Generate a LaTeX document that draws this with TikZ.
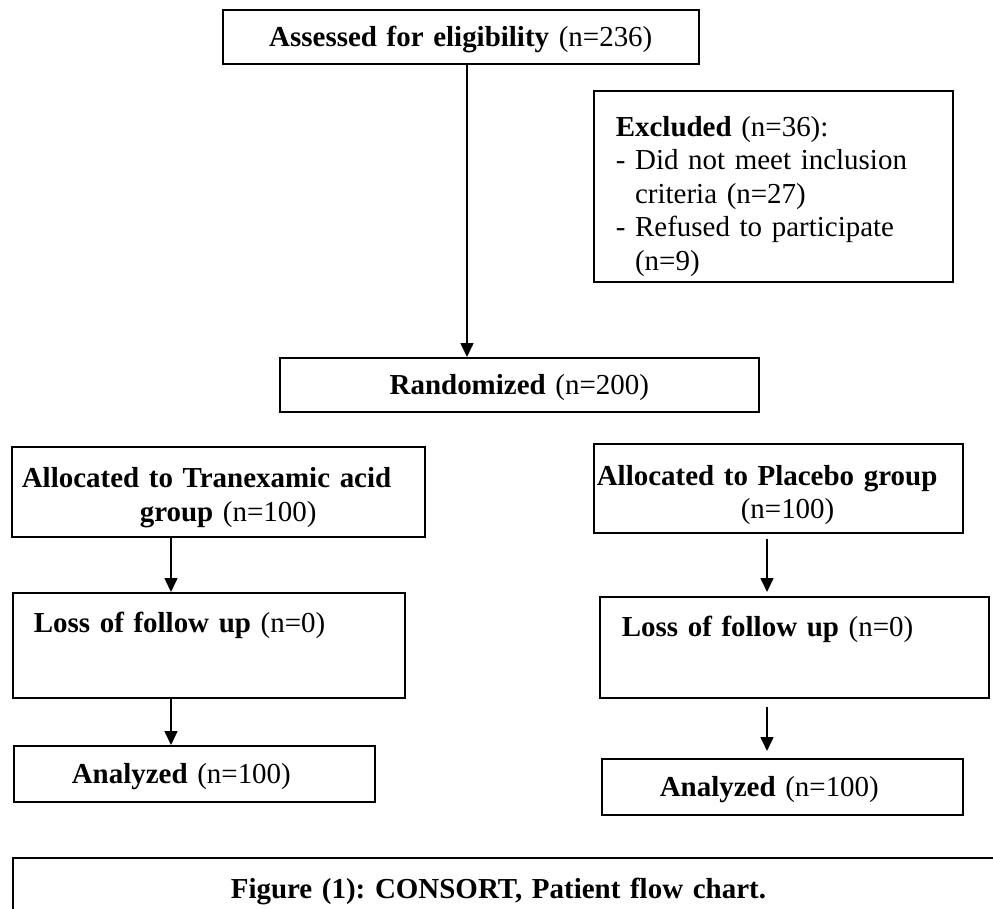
\documentclass[tikz,border=0pt]{standalone}
\usepackage{fontspec}
\setmainfont{Liberation Serif}
\usetikzlibrary{arrows.meta}
\frenchspacing

\begin{document}
\begin{tikzpicture}[x=0.25mm,y=-0.25mm,
  box/.style={draw,line width=0.4mm,anchor=north west,inner ysep=0pt,
    font=\fontsize{20.6}{23.8}\selectfont},
  arr/.style={line width=0.4mm,-{Triangle[length=3.5mm,width=3.25mm]}}]
%\draw (0,0) grid[step=50] (993,909);
\clip (0,0) rectangle (993,909);
\node[box,minimum height=13.5mm,inner xsep=2.5mm,text width=114mm,text height=5mm,text depth=0mm,align=center] (assess) at (222,9) {\textbf{Assessed for eligibility} (n=236)};
\node[box,minimum height=47.75mm,inner xsep=5.5mm,text width=78.75mm,align=left] (excl) at (593,90) {\rule{0pt}{10mm}\textbf{Excluded} (n=36):\\- Did not meet inclusion\\\phantom{- }criteria (n=27)\\- Refused to participate\\\phantom{- }(n=9)};
\node[box,minimum height=13.5mm,inner xsep=2.5mm,text width=114.75mm,text height=5mm,text depth=0mm,align=center] (rand) at (279,357) {\textbf{Randomized} (n=200)};
\node[box,minimum height=22.5mm,inner xsep=2.5mm,text width=98.25mm,align=left] (tran) at (11,446) {\rule{0pt}{8mm}\textbf{Allocated to Tranexamic acid}\\\hspace*{29.5mm}\textbf{group} (n=100)};
\node[box,minimum height=22.25mm,inner xsep=0.75mm,text width=90.75mm,align=left] (plac) at (593,443) {\rule{0pt}{8.5mm}\textbf{Allocated to Placebo group}\\\hspace*{36mm}(n=100)};
\node[box,minimum height=26.25mm,inner xsep=5.25mm,text width=87.5mm,text height=5mm,text depth=11.25mm,align=left] (lossL) at (12,592) {\textbf{Loss of follow up} (n=0)};
\node[box,minimum height=25.25mm,inner xsep=5.5mm,text width=86.25mm,text height=5mm,text depth=10.25mm,align=left] (lossR) at (599,596) {\textbf{Loss of follow up} (n=0)};
\node[box,minimum height=14mm,inner xsep=14.5mm,text width=61.25mm,text height=5mm,text depth=0mm,align=left] (anaL) at (13,745) {\textbf{Analyzed} (n=100)};
\node[box,minimum height=14mm,inner xsep=14.5mm,text width=61.25mm,text height=5mm,text depth=0mm,align=left] (anaR) at (601,758) {\textbf{Analyzed} (n=100)};
\node[box,minimum height=15.5mm,inner xsep=54.5mm,text width=195mm,text height=5mm,text depth=0mm,align=left] (capt) at (12,857) {\textbf{Figure (1): CONSORT, Patient flow chart.}};
\coordinate (ax) at (467,0);
\coordinate (lx) at (171,0);
\coordinate (rx) at (767,0);
\draw[arr] (assess.south -| ax) -- (rand.north -| ax);
\draw[arr] (tran.south -| lx) -- (lossL.north -| lx);
\draw[arr] (lossL.south -| lx) -- (anaL.north -| lx);
\draw[arr,shorten <=1.25mm,shorten >=1mm] (plac.south -| rx) -- (lossR.north -| rx);
\draw[arr,shorten <=2mm,shorten >=1.75mm] (lossR.south -| rx) -- (anaR.north -| rx);
\end{tikzpicture}
\end{document}
